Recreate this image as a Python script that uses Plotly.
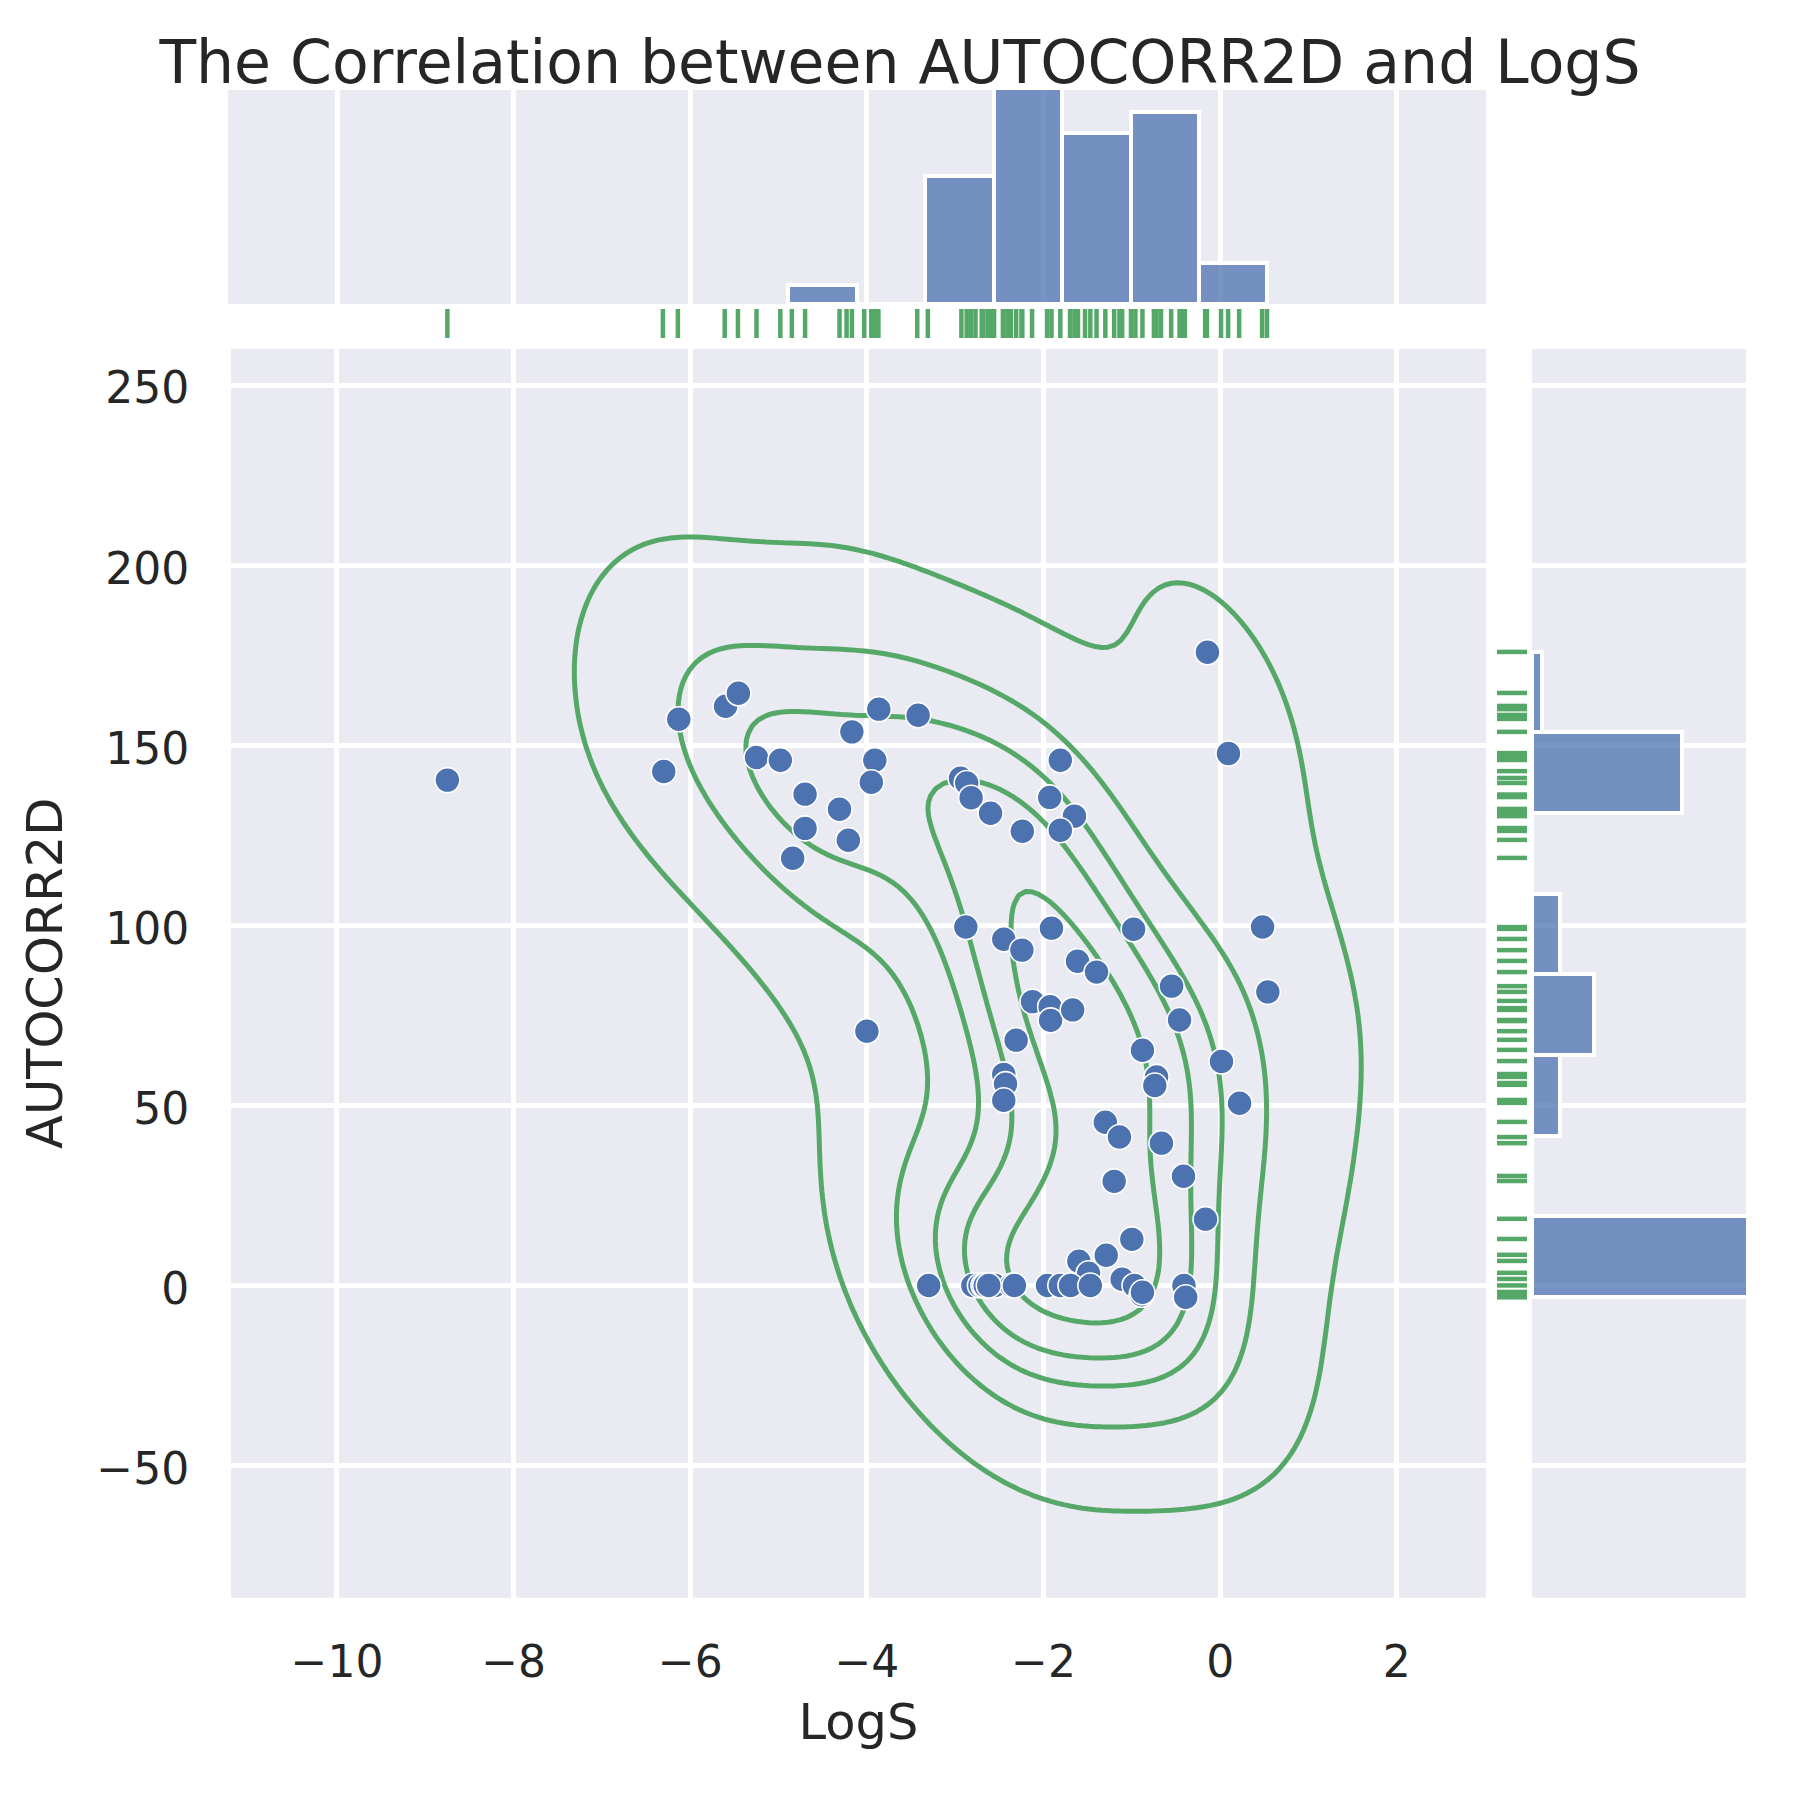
import numpy as np
import plotly.graph_objects as go

TITLE = "The Correlation between AUTOCORR2D and LogS"
logs = [-8.75,-6.30,-6.13,-5.60,-5.455,-5.25,-4.98,-4.70,-4.70,-4.84,-4.31,-4.21,-4.17,-3.91,-3.95,-3.865,-3.42,-4.00,
        -0.144,0.094,-1.81,-2.94,-2.87,-2.82,-2.60,-2.24,-1.93,-1.65,-1.81,-2.88,-2.45,-2.245,-1.91,-0.98,-1.615,-1.40,-0.55,0.48,0.54,
        -2.125,-1.925,-1.92,-1.67,-0.46,-2.31,-2.45,-2.43,-2.45,-0.88,-0.72,-0.74,0.015,0.22,-1.30,-1.14,-0.665,-1.20,-0.415,-0.166,
        -1.00,-1.29,-1.60,-1.49,-1.11,
        -3.30,-2.80,-2.72,-2.68,-2.66,-2.55,-2.36,-2.33,-1.955,-1.81,-1.695,-1.47,-0.97,-0.41,-0.39,-0.89,-0.88,-2.62]
autocorr = [140.3,142.7,157.2,160.8,164.4,146.6,145.8,136.4,126.9,118.6,132.2,123.6,153.7,145.8,139.7,160,158.3,70.6,
            175.8,147.7,145.8,140.8,139.5,135.4,131.1,126.1,135.5,130.3,126.4,99.5,96.1,93.1,99.2,98.9,90,87,83.1,99.5,81.5,
            78.8,77.4,73.6,76.5,73.7,68.1,58.6,55.9,51.4,65.3,57.9,55.5,62.2,50.6,45.3,41.2,39.5,28.9,30.3,18.4,
            12.8,8.4,6.7,3.4,1.7,
            0,0,0,0,0,0,0,0,0,0,0,0,0,0,-3.3,-2.6,-1.9,0]
rug_logs = [-8.75,-6.31,-6.14,-5.61,-5.46,-5.25,-4.98,-4.85,-4.70,-4.31,-4.23,-4.17,-4.03,-3.95,-3.91,-3.87,-3.43,-3.31,
            -2.93,-2.87,-2.82,-2.77,-2.70,-2.68,-2.63,-2.60,-2.56,-2.46,-2.41,-2.37,-2.31,-2.25,-2.24,-2.13,-1.96,-1.91,-1.81,
            -1.70,-1.65,-1.61,-1.53,-1.47,-1.40,-1.30,-1.20,-1.14,-1.11,-1.01,-0.96,-0.88,-0.75,-0.72,-0.67,-0.555,-0.46,-0.42,-0.40,
            -0.17,-0.15,0.01,0.09,0.215,0.475,0.53]
rug_auto = [175.9,164.5,160.9,160,158.4,157.3,153.7,147.8,147,145.9,142.8,140.9,139.5,136.3,135.6,132.3,131.5,130.3,127,126.2,123.7,118.7,
            99.5,99,96.2,93.1,90.1,87,83.1,81.5,79,77,76.5,73.7,73.4,70.6,68.2,65.4,62.3,58.7,57.9,56.2,55.7,51.5,50.7,45.4,41.2,39.5,30.4,29,
            18.5,12.9,8.5,6.8,3.5,1.8,0,-1.8,-2.5,-3.3]
top_edges = [-4.89,-4.115,-3.34,-2.565,-1.79,-1.015,-0.24,0.535]
top_counts = [3,0,20,35,26.7,30,6.4]
right_edges = [-3.2,19.2,41.6,64,86.4,108.8,131.2,153.6,176]
right_counts = [26,0,3,6.6,3,0,16,1.1]
x_ticks = [-10,-8,-6,-4,-2,0,2]
y_ticks = [-50,0,50,100,150,200,250]

CUT = 3
GREEN, BLUE, GRID, TXT = "#55A868", "#4C72B0", "#EAEAF2", "#262626"
F = "DejaVu Sans"

def hd(a, b): return [a/1800, b/1800]
def vd(a, b): return [1-b/1800, 1-a/1800]

# Gaussian KDE (Scott bandwidth) on the scatter values, with iso-proportion contour levels
X, Y = np.array(logs), np.array(autocorr)
cov = np.cov(X, Y)
f = len(X)**(-1/6)
H = cov*f*f
Hi = np.linalg.inv(H)
BW_X, BW_Y = np.sqrt(H[0,0]), np.sqrt(H[1,1])
gx = np.linspace(X.min()-CUT*BW_X, X.max()+CUT*BW_X, 200)
gy = np.linspace(Y.min()-CUT*BW_Y, Y.max()+CUT*BW_Y, 200)
GX, GY = np.meshgrid(gx, gy)
dx = GX[...,None]-X; dy = GY[...,None]-Y
Z = np.exp(-0.5*(Hi[0,0]*dx*dx+2*Hi[0,1]*dx*dy+Hi[1,1]*dy*dy)).sum(-1)
sv = np.sort(Z.ravel())[::-1]
cum = np.cumsum(sv)/sv.sum()
props = [0.05,0.24,0.43,0.62,0.81]
levels = [sv[np.searchsorted(cum, 1-p)] for p in props]

fig = go.Figure()
for l in levels:
    fig.add_trace(go.Contour(x=gx, y=gy, z=Z, autocontour=False,
        contours=dict(start=l, end=l, size=1, coloring="none"),
        line=dict(color=GREEN, width=5, smoothing=0), showscale=False, hoverinfo="skip",
        xaxis="x", yaxis="y"))
fig.add_trace(go.Scatter(x=logs, y=autocorr, mode="markers", xaxis="x", yaxis="y",
    marker=dict(color=BLUE, size=25, line=dict(color="white", width=1.6))))

te = np.array(top_edges)
fig.add_trace(go.Bar(x=(te[:-1]+te[1:])/2, y=top_counts, width=np.diff(te), xaxis="x2", yaxis="y2",
    marker=dict(color="rgba(76,114,176,0.75)", line=dict(color="white", width=4))))
re = np.array(right_edges)
fig.add_trace(go.Bar(y=(re[:-1]+re[1:])/2, x=right_counts, width=np.diff(re), orientation="h", xaxis="x4", yaxis="y4",
    marker=dict(color="rgba(76,114,176,0.75)", line=dict(color="white", width=4))))

rx, ry = [], []
for v in rug_logs:
    rx += [v, v, None]; ry += [0, 1, None]
fig.add_trace(go.Scatter(x=rx, y=ry, mode="lines", line=dict(color=GREEN, width=4.5), xaxis="x3", yaxis="y3"))
rx, ry = [], []
for v in rug_auto:
    rx += [0, 1, None]; ry += [v, v, None]
fig.add_trace(go.Scatter(x=rx, y=ry, mode="lines", line=dict(color=GREEN, width=4.5), xaxis="x5", yaxis="y5"))

XR = [-11.2, 3.01]; YR = [-86.7, 260]
base = dict(showline=False, zeroline=False, gridcolor="white", gridwidth=4.5)
hidden = dict(visible=False, showgrid=False, zeroline=False)
tickfont = dict(family=F, size=44, color=TXT)
labelfont = dict(family=F, size=49.5, color=TXT)
fig.update_layout(
    width=1800, height=1800, margin=dict(l=0, r=0, t=0, b=0), showlegend=False, bargap=0,
    paper_bgcolor="white", plot_bgcolor="white", font=dict(family=F, color=TXT),
    title=dict(text=TITLE, x=900/1800, xanchor="center", y=1-62/1800, yanchor="middle", font=dict(family=F, size=60, color=TXT)),
    xaxis=dict(base, domain=hd(231,1486), range=XR, tickvals=x_ticks, ticktext=[str(v).replace("-","\u2212") for v in x_ticks],
               tickfont=tickfont, ticks="outside", ticklen=25, tickcolor="rgba(0,0,0,0)",
               title=dict(text="LogS", font=labelfont, standoff=18), anchor="y"),
    yaxis=dict(base, domain=vd(349,1597.7), range=YR, tickvals=y_ticks, ticktext=[str(v).replace("-","\u2212") for v in y_ticks],
               tickfont=tickfont, ticks="outside", ticklen=32, tickcolor="rgba(0,0,0,0)", ticklabelshift=3,
               title=dict(text="AUTOCORR2D", font=labelfont, standoff=18), anchor="x"),
    xaxis2=dict(base, domain=hd(228,1486), range=[(228-1220)/88.3, 3.01], tickvals=x_ticks, showticklabels=False, anchor="y2"),
    yaxis2=dict(hidden, domain=vd(90,304), range=[0,33.4], anchor="x2"),
    xaxis3=dict(hidden, domain=hd(231,1486), range=XR, anchor="y3"),
    yaxis3=dict(hidden, domain=vd(309,338), range=[0,1], anchor="x3"),
    xaxis4=dict(hidden, domain=hd(1532,1746), range=[0,22.9], anchor="y4"),
    yaxis4=dict(base, domain=vd(349,1597.7), range=YR, tickvals=y_ticks, showticklabels=False, anchor="x4"),
    xaxis5=dict(hidden, domain=hd(1497,1527), range=[0,1], anchor="y5"),
    yaxis5=dict(hidden, domain=vd(349,1597.7), range=YR, anchor="x5"),
)
for xr, yr in (("x","y"),("x2","y2"),("x4","y4")):
    fig.add_shape(type="rect", xref=f"{xr} domain", yref=f"{yr} domain", x0=0, x1=1, y0=0, y1=1,
                  fillcolor=GRID, line_width=0, layer="below")
fig.write_html("out.html", config={"displayModeBar": False},
               post_script="document.body.style.margin='0';window.dispatchEvent(new Event('resize'));")
